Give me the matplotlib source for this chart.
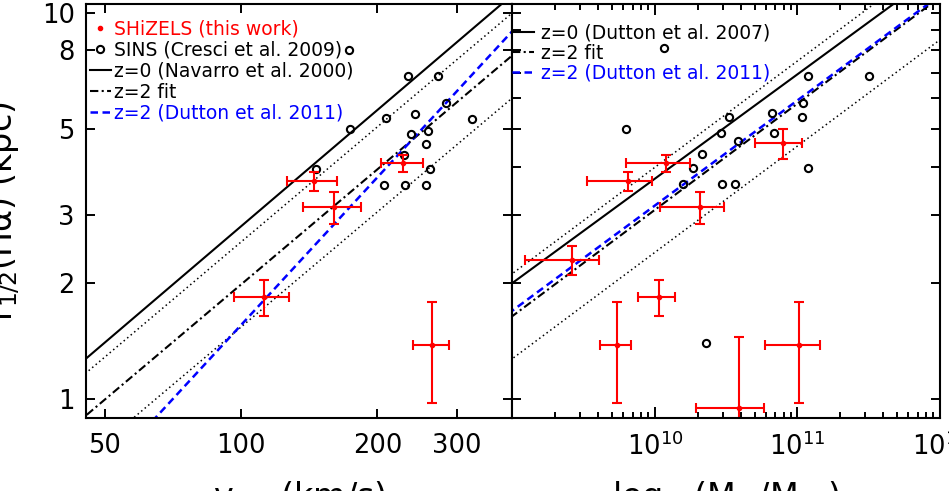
import numpy as np
import matplotlib
matplotlib.use("Agg")
import matplotlib.pyplot as plt
from matplotlib.lines import Line2D
from matplotlib.ticker import FixedLocator, NullLocator

plt.rcParams['font.family'] = ['DejaVu Sans']
plt.rcParams['mathtext.fontset'] = 'dejavusans'

# SHiZELS (this work), left panel: v2.2 (km/s) vs r1/2 (kpc)
shz_v = [144.8, 160.5, 227.9, 112.2, 264.3]
shz_v_err = [18.5, 23.6, 24.0, 15.6, 24.1]
shz_r = [3.66, 3.14, 4.08, 1.84, 1.38]
shz_r_err = [0.20, 0.30, 0.20, 0.20, 0.40]

# SHiZELS, right panel: stellar mass (1e10 Msun) vs r1/2 (kpc)
shz_m10 = [0.645, 1.19, 2.07, 7.93, 0.263, 1.07, 0.546, 3.89, 10.2]
shz_m10_err = [0.31, 0.56, 0.99, 2.9, 0.14, 0.31, 0.133, 1.95, 4.3]
shz_rm = [3.66, 4.08, 3.14, 4.59, 2.29, 1.84, 1.38, 0.95, 1.38]
shz_rm_err = [0.20, 0.20, 0.30, 0.40, 0.20, 0.20, 0.40, 0.50, 0.40]

# SINS (Cresci et al. 2009)
sins_v = [173.5, 234.1, 271.9, 283.6, 242.6, 208.7, 323.3, 173.8, 237.0,
          258.4, 256.2, 229.1, 146.4, 261.9, 206.6, 230.3, 256.2]
sins_r = [8.01, 6.87, 6.87, 5.83, 5.47, 5.33, 5.32, 5.00, 4.86,
          4.93, 4.57, 4.28, 3.95, 3.94, 3.58, 3.59, 3.58]
sins_logm = [10.065, 11.077, 11.502, 11.039, 10.820, 10.519, 11.032, 9.797, 10.463,
             10.836, 10.580, 10.331, 10.268, 11.077, 10.196, 10.472, 10.561, 10.357]
sins_rm = [8.09, 6.87, 6.87, 5.83, 5.51, 5.36, 5.36, 5.00, 4.88,
           4.87, 4.65, 4.31, 3.97, 3.97, 3.60, 3.60, 3.60, 1.40]

# power-law relations: r = norm * (x / pivot) ** slope
nav_norm, nav_slope = 2.80, 1.00        # z=0 Navarro et al. 2000, pivot 100 km/s
fitv_norm, fitv_slope = 1.98, 0.99      # z=2 fit
dut11v_norm, dut11v_slope = 1.555, 1.27  # z=2 Dutton et al. 2011
dut07_norm, dut07_slope = 3.72, 0.270   # z=0 Dutton et al. 2007, pivot 1e10 Msun
fitm_norm, fitm_slope = 3.09, 0.275
dut11m_norm, dut11m_slope = 3.17, 0.272
scatter = 0.11  # dex, dotted lines around the z=2 fit

fig = plt.figure(figsize=(9.49, 4.91), dpi=100)
W, H = 949.0, 491.0
x0, x1, x2 = 86.0, 512.3, 940.0
ytop, ybot = 4.0, 417.7
ax1 = fig.add_axes([x0 / W, 1 - ybot / H, (x1 - x0) / W, (ybot - ytop) / H])
ax2 = fig.add_axes([x1 / W, 1 - ybot / H, (x2 - x1) / W, (ybot - ytop) / H])

dotted = (0, (1, 2))
dashdot = (0, (4, 1.6, 1, 1.6))
dashed = (0, (3, 1.8))
circ = dict(ls='none', marker='o', ms=5.2, mfc='none', mec='k', mew=1.5)

# ---- left panel ----
vv = np.geomspace(40, 450, 60)
ax1.plot(vv, nav_norm * (vv / 100) ** nav_slope, color='k', lw=1.5)
fitv = fitv_norm * (vv / 100) ** fitv_slope
ax1.plot(vv, fitv * 10 ** scatter, color='k', lw=1.1, ls=dotted)
ax1.plot(vv, fitv * 10 ** -scatter, color='k', lw=1.1, ls=dotted)
ax1.plot(vv, fitv, color='k', lw=1.5, ls=dashdot)
ax1.plot(vv, dut11v_norm * (vv / 100) ** dut11v_slope, color='blue', lw=1.8, ls=dashed)
ax1.plot(sins_v, sins_r, **circ)
ax1.errorbar(shz_v, shz_r, xerr=shz_v_err, yerr=shz_r_err, fmt='o', ms=3,
             color='red', ecolor='red', elinewidth=1.5, capsize=3.6, capthick=1.5)

ax1.set_xscale('log')
ax1.set_yscale('log')
ax1.set_xlim(45.5, 397)
ax1.set_ylim(0.896, 10.53)
ax1.xaxis.set_major_locator(FixedLocator([50, 100, 200, 300]))
ax1.xaxis.set_minor_locator(NullLocator())
ax1.set_xticklabels(['50', '100', '200', '300'])
ax1.yaxis.set_major_locator(FixedLocator([1, 2, 3, 5, 8, 10]))
ax1.yaxis.set_minor_locator(NullLocator())
ax1.set_yticklabels(['1', '2', '3', '5', '8', '10'])
ax1.set_xlabel('v$_{2.2}$ (km/s)', fontsize=24)
ax1.xaxis.set_label_coords(0.5, -0.148)
ax1.set_ylabel('r$_{1/2}$(Hα) (kpc)', fontsize=24)
ax1.yaxis.set_label_coords(-0.15, 0.5)

h_left = [
    Line2D([], [], ls='none', marker='o', ms=3, color='red'),
    Line2D([], [], **circ),
    Line2D([], [], color='k', lw=1.5),
    Line2D([], [], color='k', lw=1.5, ls=dashdot),
    Line2D([], [], color='blue', lw=1.8, ls=dashed),
]
lab_left = ['SHiZELS (this work)', 'SINS (Cresci et al. 2009)',
            'z=0 (Navarro et al. 2000)', 'z=2 fit', 'z=2 (Dutton et al. 2011)']
ax1.legend(h_left, lab_left, loc='upper left', bbox_to_anchor=(0.0094, 0.9625),
           frameon=False, fontsize=13.5, handlelength=1.1, handletextpad=0.2,
           labelspacing=0.11, borderaxespad=0.0, borderpad=0.0,
           labelcolor=['red', 'k', 'k', 'k', 'blue'])

# ---- right panel ----
mm = np.geomspace(5e8, 2e12, 60)
ax2.plot(mm, dut07_norm * (mm / 1e10) ** dut07_slope, color='k', lw=1.5)
fitm = fitm_norm * (mm / 1e10) ** fitm_slope
ax2.plot(mm, fitm * 10 ** scatter, color='k', lw=1.1, ls=dotted)
ax2.plot(mm, fitm * 10 ** -scatter, color='k', lw=1.1, ls=dotted)
ax2.plot(mm, fitm, color='k', lw=1.5, ls=dashdot)
ax2.plot(mm, dut11m_norm * (mm / 1e10) ** dut11m_slope, color='blue', lw=1.8, ls=dashed)
ax2.plot(10 ** np.array(sins_logm), sins_rm, **circ)
ax2.errorbar(np.array(shz_m10) * 1e10, shz_rm, xerr=np.array(shz_m10_err) * 1e10,
             yerr=shz_rm_err, fmt='o', ms=3, color='red', ecolor='red',
             elinewidth=1.5, capsize=3.6, capthick=1.5)

ax2.set_xscale('log')
ax2.set_yscale('log')
ax2.set_xlim(1e9, 1e12)
ax2.set_ylim(0.896, 10.53)
ax2.xaxis.set_major_locator(FixedLocator([1e10, 1e11, 1e12]))
ax2.set_xticklabels(['10$^{10}$', '10$^{11}$', '10$^{12}$'])
minors = [k * 10.0 ** e for e in (9, 10, 11) for k in range(2, 10)]
ax2.xaxis.set_minor_locator(FixedLocator(minors))
ax2.yaxis.set_major_locator(FixedLocator(list(range(1, 11))))
ax2.yaxis.set_minor_locator(NullLocator())
ax2.tick_params(axis='y', labelleft=False)
ax2.set_xlabel('log$_{10}$(M$_*$/M$_\\odot$)', fontsize=24)
ax2.xaxis.set_label_coords(0.5, -0.148)

h_right = [
    Line2D([], [], color='k', lw=1.5),
    Line2D([], [], color='k', lw=1.5, ls=dashdot),
    Line2D([], [], color='blue', lw=1.8, ls=dashed),
]
lab_right = ['z=0 (Dutton et al. 2007)', 'z=2 fit', 'z=2 (Dutton et al. 2011)']
ax2.legend(h_right, lab_right, loc='upper left', bbox_to_anchor=(0.0, 0.9517),
           frameon=False, fontsize=13.5, handlelength=1.17, handletextpad=0.36,
           labelspacing=0.03, borderaxespad=0.0, borderpad=0.0,
           labelcolor=['k', 'k', 'blue'])

for ax in (ax1, ax2):
    for s in ax.spines.values():
        s.set_linewidth(1.5)
    ax.tick_params(which='both', direction='in', top=True, right=True,
                   width=1.4, labelsize=18.5)
    ax.tick_params(which='major', length=6.5)
    ax.tick_params(which='minor', length=4)
    ax.tick_params(axis='x', pad=11)
    ax.tick_params(axis='y', pad=8)
ax2.tick_params(axis='x', which='major', length=8)

fig.savefig('out.png', dpi=100)
